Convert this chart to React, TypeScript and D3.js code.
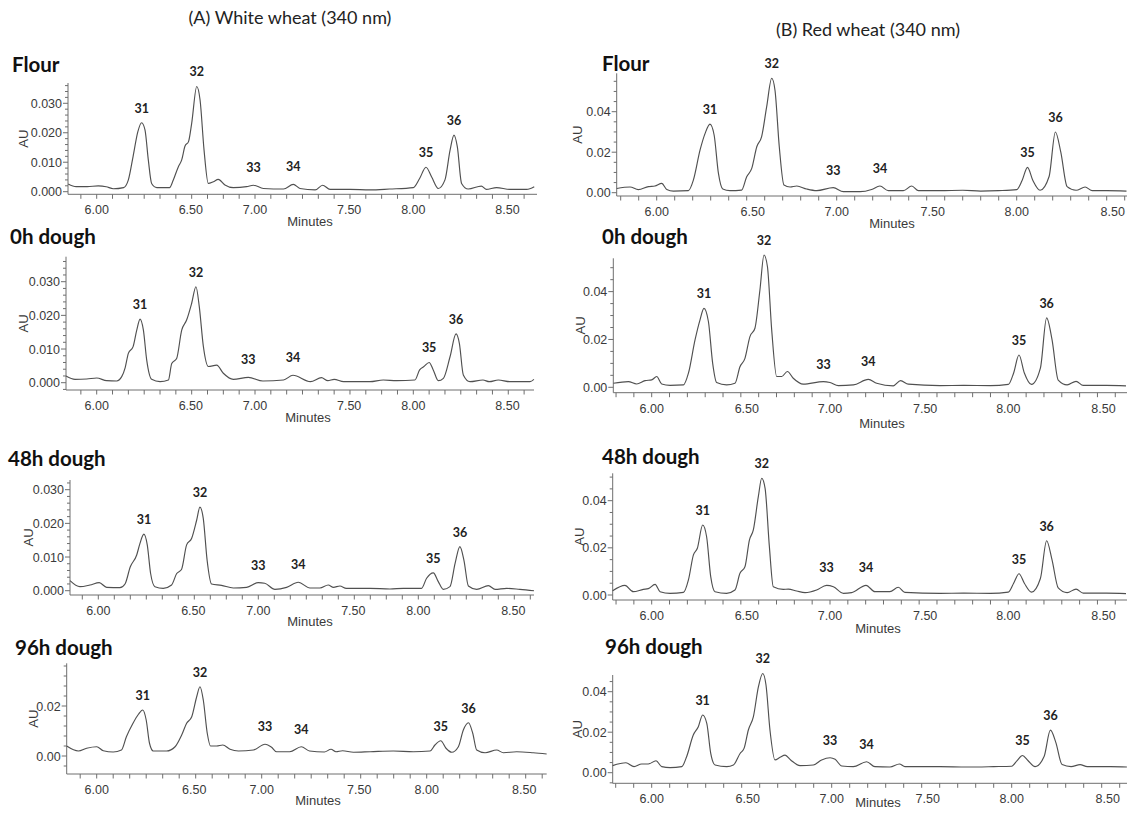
import React from "react";
import * as d3 from "d3";

type Pt = [number, number];

// Labels
const columnTitles = ["(A) White wheat (340 nm)", "(B) Red wheat (340 nm)"];
const sampleNames = ["Flour", "0h dough", "48h dough", "96h dough"];
const xAxisTitle = "Minutes";
const yAxisTitle = "AU";
const peakIds = ["31", "32", "33", "34", "35", "36"];
// retention-time windows (min) used to locate each numbered peak's apex
const peakWindows: Pt[] = [
  [6.2, 6.4], [6.55, 6.72], [6.9, 7.1], [7.15, 7.32], [7.98, 8.15], [8.15, 8.35],
];

// Chromatogram traces: [retention time (min), absorbance (AU)]
const whiteFlour: Pt[] = [
  [5.82, 0.0026], [5.87, 0.0017], [5.94, 0.0017], [6.01, 0.002], [6.06, 0.0017], [6.105, 0.001],
  [6.17, 0.0014], [6.2, 0.004], [6.23, 0.012], [6.26, 0.0204], [6.284, 0.0234], [6.305, 0.021],
  [6.326, 0.0108], [6.347, 0.0028], [6.38, 0.0014], [6.46, 0.0014], [6.484, 0.004], [6.516, 0.0085],
  [6.537, 0.0108], [6.558, 0.0155], [6.58, 0.017], [6.6, 0.0232], [6.632, 0.0357], [6.653, 0.0311],
  [6.678, 0.0142], [6.705, 0.0028], [6.737, 0.0034], [6.768, 0.0042], [6.81, 0.0023], [6.863, 0.0014],
  [6.947, 0.0017], [6.99, 0.0022], [7.053, 0.0011], [7.18, 0.0009], [7.242, 0.0025], [7.284, 0.0011],
  [7.38, 0.0006], [7.427, 0.0022], [7.474, 0.0008], [7.6, 0.0008], [7.726, 0.0006], [7.85, 0.0009],
  [8.0, 0.0014], [8.04, 0.0045], [8.08, 0.0083], [8.116, 0.005], [8.158, 0.0011], [8.2, 0.004],
  [8.232, 0.014], [8.257, 0.0192], [8.278, 0.0153], [8.305, 0.0028], [8.347, 0.0009], [8.43, 0.0019],
  [8.46, 0.0008], [8.526, 0.0014], [8.61, 0.0008], [8.716, 0.0008], [8.764, 0.0017],
];
const white0h: Pt[] = [
  [5.806, 0.002], [5.863, 0.001], [5.937, 0.0011], [6.0, 0.0014], [6.063, 0.0006], [6.126, 0.0005],
  [6.158, 0.0018], [6.18, 0.0045], [6.2, 0.0087], [6.23, 0.0107], [6.253, 0.0156], [6.274, 0.0189],
  [6.295, 0.0156], [6.316, 0.0067], [6.347, 0.001], [6.4, 0.0003], [6.453, 0.0008], [6.474, 0.0057],
  [6.505, 0.0072], [6.537, 0.0156], [6.568, 0.0186], [6.6, 0.0236], [6.627, 0.0285], [6.648, 0.0226],
  [6.674, 0.0107], [6.705, 0.0048], [6.758, 0.0052], [6.8, 0.0028], [6.863, 0.001], [6.958, 0.0016],
  [7.05, 0.0005], [7.18, 0.0008], [7.24, 0.0022], [7.35, 0.0003], [7.42, 0.0015], [7.46, 0.0006],
  [7.5, 0.001], [7.56, 0.0003], [7.726, 0.0003], [7.81, 0.0008], [7.895, 0.0006], [8.01, 0.0008],
  [8.04, 0.0038], [8.067, 0.0048], [8.1, 0.006], [8.126, 0.0038], [8.158, 0.0006], [8.19, 0.0013],
  [8.232, 0.0077], [8.27, 0.0145], [8.291, 0.0117], [8.316, 0.0023], [8.358, 0.0003], [8.44, 0.0008],
  [8.48, 0.0003], [8.537, 0.0008], [8.61, 0.0003], [8.737, 0.0003], [8.762, 0.001],
];
const white48h: Pt[] = [
  [5.823, 0.003], [5.885, 0.0012], [5.948, 0.0017], [6.006, 0.0024], [6.052, 0.001], [6.135, 0.0009],
  [6.167, 0.002], [6.2, 0.0071], [6.24, 0.0106], [6.26, 0.014], [6.285, 0.0168], [6.306, 0.0136],
  [6.327, 0.0051], [6.354, 0.0012], [6.406, 0.0007], [6.458, 0.0017], [6.49, 0.0051], [6.52, 0.0063],
  [6.552, 0.0136], [6.583, 0.0155], [6.615, 0.021], [6.635, 0.0248], [6.656, 0.0215], [6.68, 0.0091],
  [6.708, 0.002], [6.77, 0.0016], [6.844, 0.0008], [6.927, 0.001], [7.0, 0.0024], [7.04, 0.0022],
  [7.104, 0.0004], [7.177, 0.001], [7.25, 0.0025], [7.323, 0.0008], [7.385, 0.0008], [7.437, 0.0017],
  [7.47, 0.001], [7.51, 0.0014], [7.55, 0.0007], [7.698, 0.0007], [7.823, 0.0005], [7.906, 0.0007],
  [8.02, 0.0007], [8.052, 0.0037], [8.094, 0.0053], [8.125, 0.0027], [8.156, 0.0004], [8.198, 0.0012],
  [8.23, 0.0081], [8.26, 0.0131], [8.285, 0.0091], [8.313, 0.0014], [8.365, 0.0004], [8.438, 0.0015],
  [8.48, 0.0004], [8.552, 0.0007], [8.635, 0.0004], [8.723, 0.0],
];
const white96h: Pt[] = [
  [5.818, 0.004], [5.889, 0.002], [5.939, 0.0031], [6.0, 0.0037], [6.04, 0.0021], [6.1, 0.0016],
  [6.15, 0.0024], [6.18, 0.0077], [6.22, 0.0131], [6.253, 0.0167], [6.279, 0.0184], [6.3, 0.0144],
  [6.32, 0.0051], [6.343, 0.002], [6.424, 0.002], [6.475, 0.0037], [6.515, 0.0084], [6.545, 0.0131],
  [6.576, 0.0157], [6.606, 0.0237], [6.626, 0.0277], [6.646, 0.0224], [6.67, 0.0091], [6.69, 0.004],
  [6.727, 0.004], [6.764, 0.0044], [6.808, 0.0027], [6.859, 0.002], [6.95, 0.0024], [7.02, 0.0047],
  [7.06, 0.0035], [7.09, 0.0017], [7.17, 0.0017], [7.24, 0.0037], [7.29, 0.002], [7.38, 0.0016],
  [7.42, 0.0027], [7.45, 0.0017], [7.49, 0.0021], [7.556, 0.0015], [7.657, 0.0017], [7.798, 0.002],
  [7.919, 0.0017], [8.02, 0.002], [8.05, 0.0044], [8.085, 0.0061], [8.117, 0.0031], [8.152, 0.0015],
  [8.192, 0.0037], [8.222, 0.0104], [8.253, 0.0133], [8.279, 0.0091], [8.303, 0.0024], [8.354, 0.0013],
  [8.424, 0.0024], [8.465, 0.0013], [8.545, 0.0017], [8.646, 0.0013], [8.727, 0.0008],
];
const redFlour: Pt[] = [
  [5.778, 0.0021], [5.852, 0.0028], [5.898, 0.0015], [5.954, 0.003], [5.99, 0.0033], [6.028, 0.0046],
  [6.056, 0.0016], [6.093, 0.0008], [6.176, 0.001], [6.204, 0.0063], [6.241, 0.0211], [6.269, 0.0293],
  [6.296, 0.0339], [6.319, 0.0285], [6.343, 0.0095], [6.367, 0.0018], [6.407, 0.001], [6.472, 0.0013],
  [6.5, 0.0079], [6.528, 0.012], [6.556, 0.0227], [6.583, 0.0277], [6.611, 0.0425], [6.639, 0.0565],
  [6.657, 0.0507], [6.681, 0.0227], [6.707, 0.0038], [6.741, 0.0028], [6.778, 0.0033], [6.833, 0.0018],
  [6.889, 0.001], [6.981, 0.0025], [7.037, 0.0005], [7.13, 0.0005], [7.194, 0.0016], [7.24, 0.0033],
  [7.287, 0.001], [7.37, 0.001], [7.417, 0.0033], [7.454, 0.001], [7.574, 0.001], [7.7, 0.0012],
  [7.8, 0.0008], [7.9, 0.001], [8.0, 0.0015], [8.03, 0.006], [8.06, 0.0125], [8.09, 0.006],
  [8.13, 0.0012], [8.18, 0.008], [8.215, 0.03], [8.245, 0.02], [8.28, 0.003], [8.33, 0.0012],
  [8.38, 0.0028], [8.42, 0.001], [8.5, 0.001], [8.61, 0.0008],
];
const red0h: Pt[] = [
  [5.785, 0.0017], [5.869, 0.0024], [5.916, 0.0014], [5.963, 0.0028], [6.0, 0.0031], [6.028, 0.0045],
  [6.056, 0.0014], [6.103, 0.0008], [6.178, 0.001], [6.206, 0.0059], [6.243, 0.0198], [6.271, 0.0282],
  [6.293, 0.033], [6.318, 0.0275], [6.342, 0.01], [6.364, 0.002], [6.42, 0.001], [6.467, 0.0017],
  [6.495, 0.0086], [6.523, 0.0121], [6.551, 0.0212], [6.579, 0.0247], [6.607, 0.0407], [6.63, 0.0553],
  [6.649, 0.0505], [6.673, 0.024], [6.701, 0.0045], [6.729, 0.0045], [6.761, 0.0066], [6.794, 0.0038],
  [6.85, 0.0013], [6.963, 0.0024], [7.0, 0.002], [7.047, 0.0007], [7.131, 0.001], [7.215, 0.0033],
  [7.262, 0.0017], [7.355, 0.0006], [7.396, 0.0028], [7.439, 0.0013], [7.617, 0.0007], [7.75, 0.0008],
  [7.9, 0.0007], [8.0, 0.0012], [8.03, 0.006], [8.06, 0.0135], [8.09, 0.006], [8.13, 0.0012],
  [8.18, 0.008], [8.215, 0.029], [8.245, 0.02], [8.28, 0.003], [8.33, 0.001], [8.38, 0.0025],
  [8.42, 0.0008], [8.55, 0.0008], [8.66, 0.0006],
];
const red48h: Pt[] = [
  [5.781, 0.0018], [5.85, 0.0041], [5.897, 0.0014], [5.953, 0.0024], [5.981, 0.0027], [6.019, 0.0045],
  [6.047, 0.0014], [6.103, 0.0007], [6.178, 0.0011], [6.206, 0.0064], [6.234, 0.017], [6.256, 0.0198],
  [6.286, 0.0297], [6.308, 0.0247], [6.331, 0.0078], [6.355, 0.0014], [6.42, 0.0007], [6.467, 0.0021],
  [6.495, 0.0092], [6.523, 0.012], [6.548, 0.0233], [6.57, 0.0276], [6.598, 0.0417], [6.617, 0.0495],
  [6.636, 0.0452], [6.66, 0.0205], [6.682, 0.0035], [6.738, 0.0024], [6.766, 0.0025], [6.813, 0.0017],
  [6.86, 0.001], [6.925, 0.0021], [6.981, 0.0041], [7.019, 0.0035], [7.075, 0.0007], [7.121, 0.001],
  [7.202, 0.0041], [7.252, 0.0014], [7.336, 0.0014], [7.383, 0.0033], [7.42, 0.0011], [7.617, 0.0007],
  [7.75, 0.0008], [7.9, 0.0007], [8.0, 0.0012], [8.03, 0.005], [8.06, 0.009], [8.09, 0.005],
  [8.13, 0.0012], [8.18, 0.007], [8.215, 0.023], [8.245, 0.015], [8.28, 0.003], [8.33, 0.001],
  [8.38, 0.0025], [8.42, 0.0008], [8.55, 0.0008], [8.66, 0.0006],
];
const red96h: Pt[] = [
  [5.783, 0.0035], [5.857, 0.0049], [5.902, 0.003], [5.944, 0.0043], [5.981, 0.0043], [6.024, 0.0059],
  [6.056, 0.003], [6.102, 0.0025], [6.167, 0.003], [6.194, 0.0079], [6.231, 0.0186], [6.259, 0.0227],
  [6.283, 0.0285], [6.306, 0.0244], [6.328, 0.0095], [6.352, 0.0038], [6.417, 0.003], [6.454, 0.0038],
  [6.491, 0.0095], [6.513, 0.012], [6.537, 0.0211], [6.565, 0.0277], [6.593, 0.0425], [6.617, 0.049],
  [6.635, 0.0433], [6.657, 0.0211], [6.685, 0.0063], [6.713, 0.0076], [6.741, 0.0087], [6.772, 0.0063],
  [6.824, 0.0035], [6.898, 0.0038], [6.944, 0.0063], [6.991, 0.0074], [7.019, 0.0066], [7.056, 0.0033],
  [7.12, 0.003], [7.194, 0.0054], [7.24, 0.003], [7.324, 0.0028], [7.376, 0.0043], [7.407, 0.003],
  [7.6, 0.003], [7.75, 0.0028], [7.9, 0.003], [8.0, 0.0032], [8.03, 0.006], [8.06, 0.0085],
  [8.09, 0.006], [8.13, 0.003], [8.18, 0.008], [8.215, 0.021], [8.245, 0.015], [8.28, 0.004],
  [8.33, 0.003], [8.38, 0.004], [8.42, 0.003], [8.55, 0.003], [8.64, 0.0028],
];

const whiteTraces = [whiteFlour, white0h, white48h, white96h];
const redTraces = [redFlour, red0h, red48h, red96h];

// Panel frames (pixel layout). x6 = pixel of 6.00 min, ppm = px per minute,
// y0 = pixel of 0 AU, ppa = px per AU, halfShift = nudge of the x.50 labels.
interface Frame {
  left: number; right: number; top: number; bottom: number;
  x6: number; ppm: number; y0: number; ppa: number;
  yMajor: number; yMinor: number; digits: number; halfShift: number;
  titleX: number; titleY: number; auX: number; minX: number; minY: number;
}

const whiteFrames: Frame[] = [
  { left: 68, right: 537, top: 83, bottom: 194.3, x6: 96.7, ppm: 158.3, y0: 191.7, ppa: 2947,
    yMajor: 0.01, yMinor: 0.002, digits: 3, halfShift: 15, titleX: 12, titleY: 72, auX: 23, minX: 310, minY: 221 },
  { left: 66, right: 534, top: 256.7, bottom: 390, x6: 96.7, ppm: 158.3, y0: 382.7, ppa: 3367,
    yMajor: 0.01, yMinor: 0.002, digits: 3, halfShift: 15, titleX: 10, titleY: 244, auX: 23, minX: 308, minY: 417 },
  { left: 70, right: 534, top: 480, bottom: 595, x6: 98.3, ppm: 160, y0: 590.7, ppa: 3367,
    yMajor: 0.01, yMinor: 0.002, digits: 3, halfShift: 15, titleX: 8, titleY: 466, auX: 28, minX: 310, minY: 621 },
  { left: 66.7, right: 546.7, top: 663.3, bottom: 774, x6: 96.7, ppm: 165, y0: 756, ppa: 2500,
    yMajor: 0.02, yMinor: 0.004, digits: 2, halfShift: 15, titleX: 15, titleY: 655, auX: 33, minX: 318, minY: 800 },
];
const redFrames: Frame[] = [
  { left: 616.7, right: 1127, top: 73.3, bottom: 196, x6: 656.7, ppm: 180, y0: 192.7, ppa: 2025,
    yMajor: 0.02, yMinor: 0.005, digits: 2, halfShift: 6, titleX: 602, titleY: 71, auX: 577, minX: 892, minY: 223 },
  { left: 613.3, right: 1127, top: 258.3, bottom: 392.7, x6: 651.7, ppm: 178.3, y0: 387.3, ppa: 2392,
    yMajor: 0.02, yMinor: 0.005, digits: 2, halfShift: 6, titleX: 602, titleY: 244, auX: 580, minX: 882, minY: 423 },
  { left: 612.7, right: 1127, top: 473.3, bottom: 600, x6: 651.7, ppm: 178.3, y0: 595, ppa: 2358,
    yMajor: 0.02, yMinor: 0.005, digits: 2, halfShift: 6, titleX: 602, titleY: 464, auX: 579, minX: 878, minY: 628 },
  { left: 612.7, right: 1127, top: 675, bottom: 783.3, x6: 651.7, ppm: 180, y0: 772.7, ppa: 2025,
    yMajor: 0.02, yMinor: 0.005, digits: 2, halfShift: 6, titleX: 605, titleY: 654, auX: 577, minX: 878, minY: 802 },
];

const AXIS_FONT = "'Liberation Sans', Arial, sans-serif";
const LABEL_FONT = "Lato, 'Open Sans', sans-serif";
const INK = "#3a3a3a";
const AXIS_COLOR = "#6e6e6e";
const TRACE_COLOR = "#505050";

function stepsBetween(lo: number, hi: number, step: number): number[] {
  const a = Math.ceil(lo / step - 1e-6);
  const b = Math.floor(hi / step + 1e-6);
  return d3.range(a, b + 1).map((i) => +(i * step).toFixed(6));
}

function Panel({ f, data, name }: { f: Frame; data: Pt[]; name: string }) {
  const x = d3.scaleLinear().domain([6, 7]).range([f.x6, f.x6 + f.ppm]);
  const y = d3.scaleLinear().domain([0, 0.01]).range([f.y0, f.y0 - f.ppa * 0.01]);
  const tStart = x.invert(f.left);
  const tEnd = x.invert(f.right);
  const vMin = y.invert(f.bottom);
  const vMax = y.invert(f.top);

  const xTicks = stepsBetween(tStart, tEnd, 0.1);
  const yTicks = stepsBetween(vMin, vMax, f.yMinor);
  const isMajorY = (v: number) => Math.abs(v / f.yMajor - Math.round(v / f.yMajor)) < 1e-4 && v >= -1e-9;
  const isMajorX = (t: number) => Math.abs(t * 2 - Math.round(t * 2)) < 1e-4;
  const isHalf = (t: number) => Math.abs(t - Math.floor(t + 1e-6) - 0.5) < 1e-4;

  const line = d3
    .line<Pt>()
    .x((d) => x(d[0]))
    .y((d) => y(d[1]))
    .curve(d3.curveMonotoneX);

  const apexes = peakWindows.map(([a, b]) => {
    const inWin = data.filter((d) => d[0] >= a && d[0] <= b);
    return inWin.reduce((m, d) => (d[1] > m[1] ? d : m), inWin[0]);
  });

  return (
    <g>
      <text x={f.titleX} y={f.titleY} fontFamily={LABEL_FONT} fontWeight={700} fontSize={20.5} fill="#111">
        {name}
      </text>
      {/* axes */}
      <line x1={f.left} x2={f.left} y1={f.top} y2={f.bottom} stroke={AXIS_COLOR} strokeWidth={1} />
      <line x1={f.left} x2={f.right} y1={f.bottom} y2={f.bottom} stroke={AXIS_COLOR} strokeWidth={1} />
      {xTicks.map((t) => (
        <line key={"xt" + t} x1={x(t)} x2={x(t)} y1={f.bottom} y2={f.bottom + 4.5} stroke={AXIS_COLOR} strokeWidth={1} />
      ))}
      {xTicks.filter(isMajorX).map((t) => (
        <text
          key={"xl" + t}
          x={x(t) + (isHalf(t) ? f.halfShift : 0)}
          y={f.bottom + 20}
          textAnchor="middle"
          fontFamily={AXIS_FONT}
          fontSize={12.5}
          fill={INK}
        >
          {t.toFixed(2)}
        </text>
      ))}
      {yTicks.map((v) => (
        <line key={"yt" + v} x1={f.left - (isMajorY(v) ? 5 : 3)} x2={f.left} y1={y(v)} y2={y(v)} stroke={AXIS_COLOR} strokeWidth={1} />
      ))}
      {yTicks.filter(isMajorY).map((v) => (
        <text key={"yl" + v} x={f.left - 6} y={y(v) + 4.5} textAnchor="end" fontFamily={AXIS_FONT} fontSize={12.5} fill={INK}>
          {v.toFixed(f.digits)}
        </text>
      ))}
      <text
        transform={`translate(${f.auX},${(f.top + f.bottom) / 2}) rotate(-90)`}
        textAnchor="middle"
        dy={4.5}
        fontFamily={AXIS_FONT}
        fontSize={13}
        fill={INK}
      >
        {yAxisTitle}
      </text>
      <text x={f.minX} y={f.minY + 4.5} textAnchor="middle" fontFamily={AXIS_FONT} fontSize={13} fill={INK}>
        {xAxisTitle}
      </text>
      {/* trace */}
      <path d={line(data) ?? ""} fill="none" stroke={TRACE_COLOR} strokeWidth={1.15} strokeLinejoin="round" />
      {/* peak numbers */}
      {apexes.map((p, i) => (
        <text
          key={peakIds[i]}
          x={x(p[0])}
          y={y(p[1]) - (i === 2 || i === 3 ? 13 : 10)}
          textAnchor="middle"
          fontFamily={LABEL_FONT}
          fontWeight={700}
          fontSize={12.5}
          fill="#222"
        >
          {peakIds[i]}
        </text>
      ))}
    </g>
  );
}

export default function App() {
  return (
    <svg
      width={1130}
      height={816}
      style={{ position: "absolute", left: 0, top: 0, background: "#fff" }}
    >
      <rect width={1130} height={816} fill="#fff" />
      <text x={290} y={24} textAnchor="middle" fontFamily={LABEL_FONT} fontSize={18} fill="#222">
        {columnTitles[0]}
      </text>
      <text x={868} y={36} textAnchor="middle" fontFamily={LABEL_FONT} fontSize={18} fill="#222">
        {columnTitles[1]}
      </text>
      {whiteFrames.map((f, i) => (
        <Panel key={"w" + i} f={f} data={whiteTraces[i]} name={sampleNames[i]} />
      ))}
      {redFrames.map((f, i) => (
        <Panel key={"r" + i} f={f} data={redTraces[i]} name={sampleNames[i]} />
      ))}
    </svg>
  );
}
